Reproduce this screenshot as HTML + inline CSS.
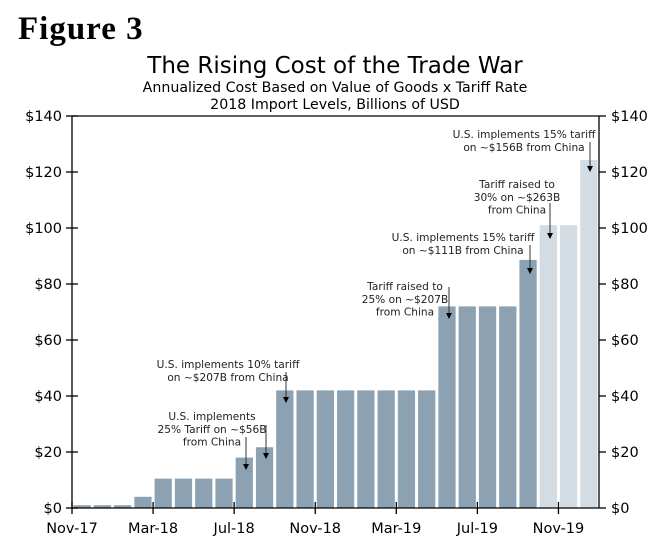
<!DOCTYPE html>
<html><head><meta charset="utf-8"><style>
body{margin:0;background:#fff;}
svg{display:block;font-family:"DejaVu Sans","Liberation Sans",sans-serif;}
</style></head><body>
<svg id="c" width="655" height="547" viewBox="0 0 655 547">
<text x="18" y="39" font-family="Liberation Serif,serif" font-weight="bold" font-size="33" letter-spacing="1" fill="#000">Figure 3</text>
<text x="335" y="73" text-anchor="middle" font-size="23" fill="#000">The Rising Cost of the Trade War</text>
<text x="335" y="92" text-anchor="middle" font-size="14.2" fill="#000">Annualized Cost Based on Value of Goods x Tariff Rate</text>
<text x="335" y="109" text-anchor="middle" font-size="14.2" fill="#000">2018 Import Levels, Billions of USD</text>
<g id="bars"></g><g id="axes"></g><g id="ann"></g>
</svg>
<script>
const months=["Nov-17","Dec-17","Jan-18","Feb-18","Mar-18","Apr-18","May-18","Jun-18","Jul-18","Aug-18","Sep-18","Oct-18","Nov-18","Dec-18","Jan-19","Feb-19","Mar-19","Apr-19","May-19","Jun-19","Jul-19","Aug-19","Sep-19","Oct-19","Nov-19","Dec-19"];
const values=[1,1,1,4,10.5,10.5,10.5,10.5,18,21.7,42,42,42,42,42,42,42,42,72,72,72,72,88.6,101,101,124.3];
const projected=[0,0,0,0,0,0,0,0,0,0,0,0,0,0,0,0,0,0,0,0,0,0,0,1,1,1];
const yTicks=[0,20,40,60,80,100,120,140];
const xTickLabels=["Nov-17","Mar-18","Jul-18","Nov-18","Mar-19","Jul-19","Nov-19"];
const NS="http://www.w3.org/2000/svg";
const L=72,R=599,T=116,B=508,yMax=140;
const band=(R-L)/months.length;
function xPos(i){return L+i*band;}
function yPos(v){return B-(v/yMax)*(B-T);}
function mk(tag,attrs,parent){const e=document.createElementNS(NS,tag);for(const k in attrs)e.setAttribute(k,attrs[k]);parent.appendChild(e);return e;}
const gb=document.getElementById('bars'),ga=document.getElementById('axes'),gn=document.getElementById('ann');
values.forEach((v,i)=>{
 const r=mk('rect',{x:xPos(i)+1.5,y:yPos(v),width:band-3,height:B-yPos(v),fill:projected[i]?'#d3dce3':'#8ca2b2'},gb);
 
 
});
mk('line',{x1:L,y1:T,x2:R,y2:T,stroke:'#000','stroke-width':1.3},ga);
mk('line',{x1:L,y1:T,x2:L,y2:B,stroke:'#000','stroke-width':1.3},ga);
mk('line',{x1:R,y1:T,x2:R,y2:B,stroke:'#000','stroke-width':1.3},ga);
mk('line',{x1:L,y1:B,x2:R,y2:B,stroke:'#000','stroke-width':1.3},ga);
yTicks.forEach(t=>{
 const y=yPos(t);
 mk('line',{x1:L-6,y1:y,x2:L+6,y2:y,stroke:'#000','stroke-width':1.3},ga);
 mk('line',{x1:R,y1:y,x2:R+7,y2:y,stroke:'#000','stroke-width':1.3},ga);
 const a=mk('text',{x:L-10,y:y+5,'text-anchor':'end','font-size':14.5},ga);a.textContent='$'+t;
 
 
 const b=mk('text',{x:R+12,y:y+5,'font-size':14.5},ga);b.textContent='$'+t;
 
 
});
xTickLabels.forEach(lbl=>{
 const i=months.indexOf(lbl),x=xPos(i);
 mk('line',{x1:x,y1:B-6,x2:x,y2:B+6,stroke:'#000','stroke-width':1.3},ga);
 const t=mk('text',{x:x,y:B+25,'text-anchor':'middle','font-size':14.5},ga);t.textContent=lbl;
 
 
});
const anns=[
 {lines:["U.S. implements 15% tariff","on ~$156B from China"],cx:524,y:138,arrows:[[590,142,172]]},
 {lines:["Tariff raised to","30% on ~$263B","from China"],cx:517,y:188,arrows:[[550,203,239]]},
 {lines:["U.S. implements 15% tariff","on ~$111B from China"],cx:463,y:241,arrows:[[530,245,274]]},
 {lines:["Tariff raised to","25% on ~$207B","from China"],cx:405,y:290,arrows:[[449,287,319]]},
 {lines:["U.S. implements 10% tariff","on ~$207B from China"],cx:228,y:368,arrows:[[286,372,403]]},
 {lines:["U.S. implements","25% Tariff on ~$56B","from China"],cx:212,y:420,arrows:[[246,437,470],[266,425,459]]}
];
anns.forEach((a,k)=>{
 const t=mk('text',{x:a.cx,y:a.y,'text-anchor':'middle','font-size':10.6,fill:'#222'},gn);
 
 
 a.lines.forEach((l,j)=>{const s=mk('tspan',{x:a.cx,dy:j?12.8:0},t);s.textContent=l;});
 a.arrows.forEach(([x,y1,y2])=>{
  mk('line',{x1:x,y1:y1,x2:x,y2:y2-5,stroke:'#333','stroke-width':1},gn);
  mk('path',{d:`M${x-3},${y2-6}L${x+3},${y2-6}L${x},${y2}Z`,fill:'#000'},gn);
 });
});
</script>
</body></html>
